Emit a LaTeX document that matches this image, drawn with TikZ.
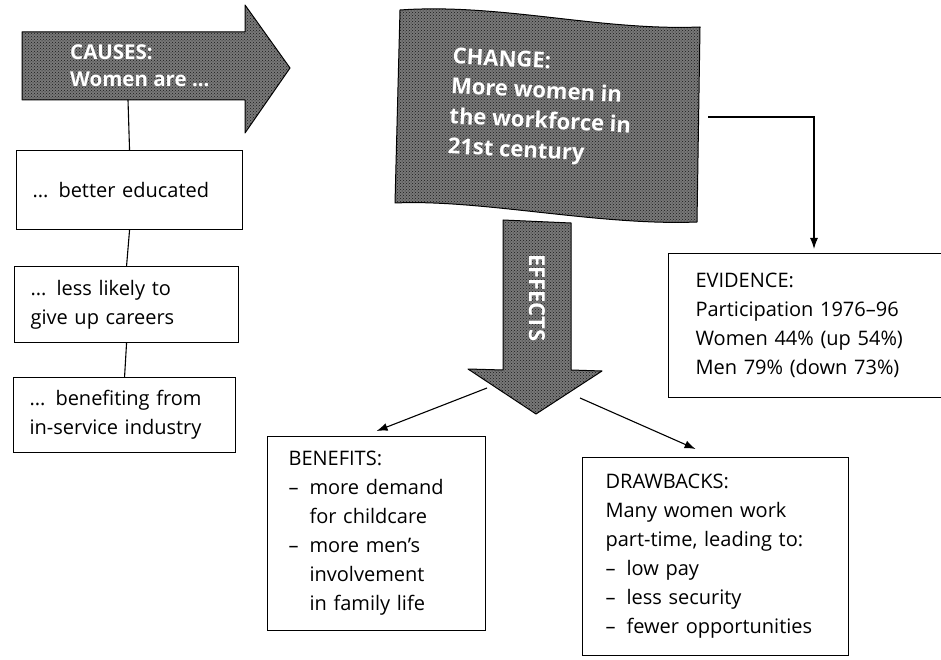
\documentclass[tikz,border=0pt]{standalone}
\usepackage{fontspec}
\setmainfont{Open Sans}
\usetikzlibrary{arrows.meta,patterns}
\tikzset{
  bigshape/.style={fill=black!53, draw=black, line width=1pt, line join=round,
    postaction={pattern=crosshatch dots, pattern color=black!90}},
  shapetext/.style={text=white, font=\bfseries\fontsize{20.5}{27}\selectfont, align=left, inner sep=0pt},
  textbox/.style={draw=black, line width=1.1pt, anchor=north west, inner xsep=16pt, inner ysep=0pt,
    align=left, font=\fontsize{20}{29}\selectfont},
  link/.style={draw=black, line width=1.1pt},
  arr/.style={link, -{Latex[length=11pt,width=8pt]}}
}
\newcommand{\dashln}{\makebox[1.05em][l]{–}}
\newcommand{\contln}{\hspace*{1.05em}}
\begin{document}
\begin{tikzpicture}[x=1pt,y=1pt]
\useasboundingbox (0,0) rectangle (941,659);

% Causes arrow
\path[bigshape] (22,627) -- (245,627) -- (245,654) -- (290,591) -- (245,526) -- (245,559) -- (22,559) -- cycle;
\node[shapetext, anchor=west] (causes) at (70,593) {CAUSES:\\Women are ...};
\coordinate (causesfoot) at (128,559);

% Change banner
\path[bigshape] (400,649) .. controls (500,656) and (600,628) .. (700,632)
  -- (697,437) .. controls (600,433) and (480,460) .. (395,456) -- cycle;
\node[shapetext, font=\bfseries\fontsize{22}{30}\selectfont, rotate=-3] (change) at (541,551)
  {CHANGE:\\More women in\\the workforce in\\21st century};

% Effects arrow
\path[bigshape] (503,439) -- (571,436) -- (571,289) -- (602,288) -- (536,245) -- (468,290) -- (503,289) -- cycle;
\node[shapetext, font=\bfseries\fontsize{22}{27}\selectfont, rotate=-90] (effects) at (537,361) {EFFECTS};

% Causes list
\node[textbox, text width=194pt, minimum height=79pt] (better) at (16,509) {... better educated};
\node[textbox, text width=192pt, minimum height=76pt] (likely) at (14,393) {... less likely to\\give up careers};
\node[textbox, text width=190pt, minimum height=75pt] (benefiting) at (13,282) {... benefiting from\\in-service industry};

\draw[link] (causesfoot) -- (better.north);
\draw[link] (better.south) -- (likely.north);
\draw[link] (likely.south) -- (benefiting.north);

% Evidence
\node[textbox, inner xsep=0pt, text width=290pt, minimum height=144pt] (evidence) at (668,406)
  {\hspace*{27pt}EVIDENCE:\\\hspace*{27pt}Participation 1976–96\\\hspace*{27pt}Women 44\% (up 54\%)\\\hspace*{27pt}Men 79\% (down 73\%)};
\coordinate (evstart) at (708,542);
\coordinate (evtip) at (814,410);
\draw[arr] (evstart) -| (evtip);

% Benefits and drawbacks
\node[textbox, inner xsep=0pt, text width=218pt, minimum height=194pt] (benefits) at (267,223)
  {\hspace*{21pt}BENEFITS:\\\hspace*{21pt}\dashln more demand\\\hspace*{21pt}\contln for childcare\\
   \hspace*{21pt}\dashln more men’s\\\hspace*{21pt}\contln involvement\\\hspace*{21pt}\contln in family life};
\node[textbox, inner xsep=0pt, text width=266pt, minimum height=198pt] (drawbacks) at (582,202)
  {\hspace*{23pt}DRAWBACKS:\\\hspace*{23pt}Many women work\\\hspace*{23pt}part-time, leading to:\\
   \hspace*{23pt}\dashln low pay\\\hspace*{23pt}\dashln less security\\\hspace*{23pt}\dashln fewer opportunities};

\coordinate (bstart) at (487,271);
\coordinate (dstart) at (580,261);
\draw[arr] (bstart) -- ([yshift=5pt]benefits.north);
\draw[arr] (dstart) -- ([xshift=-20pt,yshift=8pt]drawbacks.north);
\end{tikzpicture}
\end{document}
